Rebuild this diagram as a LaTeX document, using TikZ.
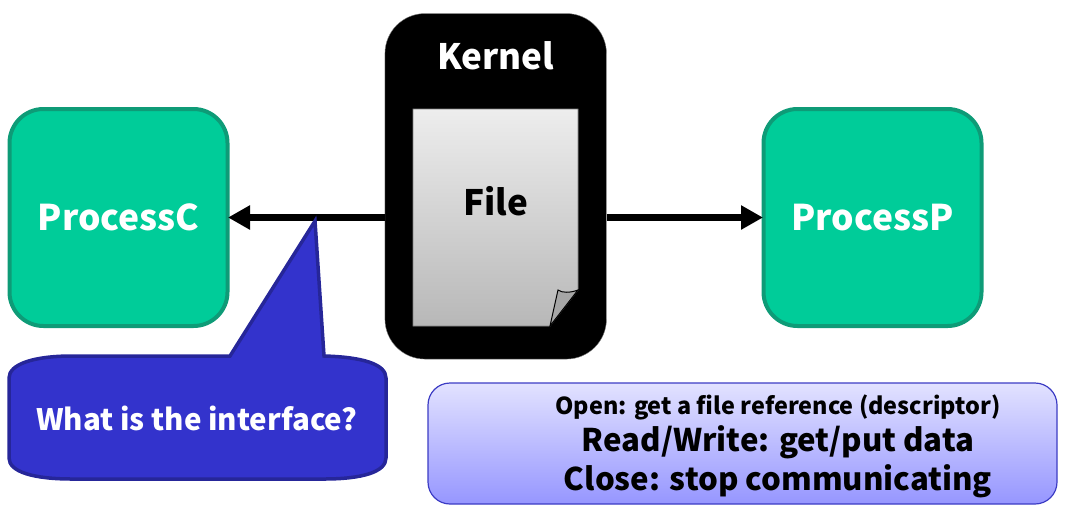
\documentclass[tikz,border=0pt]{standalone}
\usepackage{fontspec}
\setmainfont{Noto Sans CJK SC}
\usetikzlibrary{positioning, arrows.meta}

\definecolor{procfill}{HTML}{00CC99}
\definecolor{procline}{HTML}{0E9B77}
\definecolor{bubblefill}{HTML}{3333CC}
\definecolor{bubbleline}{HTML}{262699}
\definecolor{notetop}{HTML}{E2E2FF}
\definecolor{notebot}{HTML}{9696FF}
\definecolor{noteline}{HTML}{3C3CC4}

\tikzset{
  process/.style={draw=procline, line width=4pt, fill=procfill, rounded corners=34pt,
    minimum width=218pt, minimum height=217pt, text=white, font=\fontsize{35.4}{40}\selectfont\bfseries},
  link/.style={line width=7pt, -{Triangle[length=22pt,width=23pt]}, shorten >=-1.5pt},
  sheet/.style={draw=gray, line width=0.8pt, top color=black!7, bottom color=black!28}
}

\begin{document}
\begin{tikzpicture}[x=1pt,y=-1pt]
  \useasboundingbox (0,0) rectangle (1067,515);

  \node[process] (procC) at (118.5,217.5) {ProcessC};
  \node[process] (procP) at (872.5,217.5) {ProcessP};

  \node[draw=gray, fill=black, rounded corners=40pt, minimum width=221.5pt, minimum height=345.5pt] (kernel) at (495.7,186.3) {};
  \node[text=white, font=\fontsize{35}{40}\selectfont\bfseries] (kernelname) at (495.5,56) {Kernel};

  \draw[link] (kernel.west |- procC.east) -- (procC.east);
  \draw[link] (kernel.east |- procP.west) -- (procP.west);

  % page with the folded corner
  \draw[sheet] (413,109) -- (578,109) -- (578,290) -- (550,326) -- (413,326) -- cycle;
  \draw[black, line width=1pt, fill=black!35] (550,326) -- (558,290) .. controls (562,293) and (570,293) .. (578,290) -- cycle;
  \node[font=\fontsize{35}{40}\selectfont\bfseries] (filename) at (495.5,201) {File};

  % callout
  \draw[draw=bubbleline, line width=3.5pt, fill=bubblefill]
    (72,356) -- (230,356) -- (315,221) -- (324,356) -- (324,356)
    .. controls (362,357) and (386,364) .. (386,378) -- (386,458)
    .. controls (386,472) and (362,479) .. (324,479) -- (72,479)
    .. controls (34,479) and (9,472) .. (9,458) -- (9,378)
    .. controls (9,364) and (34,356) .. (72,356) -- cycle;
  \node[text=white, font=\fontsize{29.5}{36}\selectfont\bfseries] (question) at (197,418) {What is the interface?};

  % note box
  \node[draw=noteline, line width=1.2pt, top color=notetop, bottom color=notebot, rounded corners=22pt,
    minimum width=629pt, minimum height=121pt] (notebox) at (742.5,443.5) {};
  \node[align=center, font=\bfseries] (notetext) at (778,446.5) {%
    {\fontsize{23.4}{36}\selectfont Open: get a file reference (descriptor)}\\[4pt]
    {\fontsize{31.2}{38}\selectfont Read/Write: get/put data}\\[5pt]
    {\fontsize{31.2}{38}\selectfont Close: stop communicating}};
\end{tikzpicture}
\end{document}
